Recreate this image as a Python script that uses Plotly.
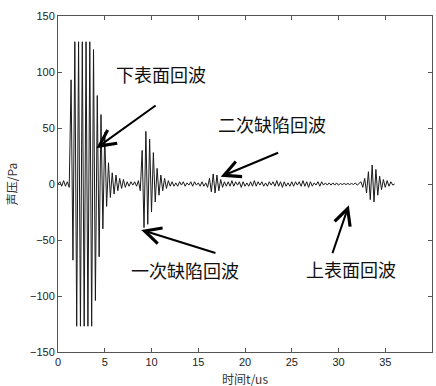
import plotly.graph_objects as go

# sampling interval of the digitised waveform (us)
sample_interval_us = 0.2

# sound pressure values (Pa), one per sample from t = 0 us
pressure_pa = [
    0, 2, -2, 3, -2, 2, -3,
    93, -68, 127, -127, 127, -127, 127, -127, 127, -127, 127, -127,
    120, -104, 79, -65, 62, -40, 46, -20, 19, -12, 10, -9, 8, -6, 5, -4, 4, -3,
    2, -2, 2, -1, 2, -2, 3, -6,
    30, -39, 47, -36, 40, -25, 28, -16, 14, -10, 8, -6, 5, -4, 3, -2,
    2, -2, 1, -2, 2, -1, 2, -2, 1, -1, 2, -2, 2, -1, 1, -2, 2, -2, 1,
    -3, 5, -7, 9, -8, 8, -6, 4, -3, 2, -2,
    2, -2, 3, -2, 2, -1, 2, -3, 2, -2, 1, -2, 2, -2, 3, -2, 2, -1, 2, -2,
    1, -2, 2, -1, 2, -2, 3, -2, 2, -3, 2, -2, 1, -2, 2, -2, 2, -1, 2, -2,
    3, -2, 2, -3, 2, -2, 1, -1, 2, -2, 2, -1, 1, -1, 1, -1, 1, -1, 1, -1,
    0.5, -0.5, 0.5, -0.5, 0.5, -0.5, 0.5, -0.5, 1, -1, 1,
    2, -3, 5, -8, 11, -14, 17, -16, 13, -10, 7, -5, 4, -3, 3, -2, 2, -1, 0,
]
time_us = [round(i * sample_interval_us, 1) for i in range(len(pressure_pa))]

# annotations: label text, label position, arrow tail, arrow head (data units)
labels = ["下表面回波", "一次缺陷回波", "二次缺陷回波", "上表面回波"]
label_x = [11.0, 13.6, 22.9, 31.3]
label_y = [98, -77, 54, -76]
tail_x = [10.6, 17.0, 23.7, 29.3]
tail_y = [71, -62, 28.5, -63]
head_x = [4.1, 8.9, 17.4, 31.1]
head_y = [32, -41, 6.5, -19]

x_ticks = [0, 5, 10, 15, 20, 25, 30, 35, 40]
y_ticks = [-150, -100, -50, 0, 50, 100, 150]

fig = go.Figure()
fig.add_trace(go.Scatter(
    x=time_us, y=pressure_pa, mode="lines",
    line=dict(color="#1a1a1a", width=1), showlegend=False, hoverinfo="skip",
))

cjk = "Noto Sans CJK SC"
for i, txt in enumerate(labels):
    fig.add_annotation(x=label_x[i], y=label_y[i], text=txt, showarrow=False,
                       font=dict(family=cjk, size=18, color="#111"))
    fig.add_annotation(x=head_x[i], y=head_y[i], ax=tail_x[i], ay=tail_y[i],
                       xref="x", yref="y", axref="x", ayref="y", text="",
                       showarrow=True, arrowhead=5, arrowsize=1.6,
                       arrowwidth=2, arrowcolor="#000")

fig.add_annotation(x=-0.125, y=0.5, xref="paper", yref="paper", text="声压/Pa",
                   textangle=-90, showarrow=False, xanchor="center", yanchor="middle",
                   font=dict(family=cjk, size=12, color="#333"))
fig.add_annotation(x=0.5, y=-0.078, xref="paper", yref="paper", text="时间t/us",
                   showarrow=False, xanchor="center", yanchor="middle",
                   font=dict(family=cjk, size=12, color="#333"))

axis_common = dict(showgrid=False, zeroline=False, showline=True, linecolor="#555",
                   linewidth=1, mirror="ticks", ticks="inside", ticklen=4,
                   tickcolor="#555",
                   tickfont=dict(family="Liberation Sans", size=11, color="#222"))
fig.update_xaxes(range=[0, 40], tickvals=x_ticks, **axis_common)
fig.update_yaxes(range=[-150, 150], tickvals=y_ticks, **axis_common)

fig.update_layout(width=436, height=386, margin=dict(l=58, r=4, t=16, b=34),
                  paper_bgcolor="white", plot_bgcolor="white")
fig.write_html("out.html")
